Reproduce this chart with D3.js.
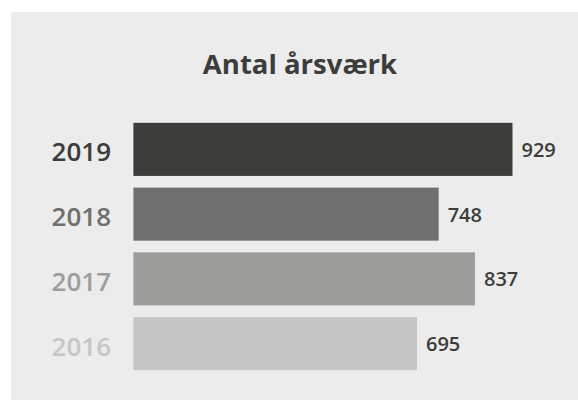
<!DOCTYPE html>
<html>
<head>
<meta charset="utf-8">
<script src="https://cdn.jsdelivr.net/npm/d3@7"></script>
<style>
  body { margin: 0; background: #fff; }
  svg { display: block; font-family: "Open Sans", sans-serif; }
</style>
</head>
<body>
<svg id="chart" width="578" height="400"></svg>
<script>
const years = ['2019', '2018', '2017', '2016'];
const values = [929, 748, 837, 695];
const colors = ['#3c3c3b', '#6f6f6f', '#9d9d9c', '#c6c6c6'];
const title = 'Antal årsværk';

const svg = d3.select('#chart');

// grey panel
svg.append('rect')
  .attr('x', 11).attr('y', 12)
  .attr('width', 567).attr('height', 388)
  .attr('fill', '#ececec');

svg.append('text')
  .attr('x', 300).attr('y', 74)
  .attr('text-anchor', 'middle')
  .attr('font-size', 27.5)
  .attr('font-weight', 700)
  .attr('fill', '#3c3c3b')
  .text(title);

const x = d3.scaleLinear().domain([0, 929]).range([133.4, 512.5]);
const y = d3.scaleBand().domain(years).range([117, 376]).paddingInner(0.18).paddingOuter(0.09);

const rows = svg.selectAll('g.row')
  .data(years)
  .join('g')
  .attr('class', 'row');

rows.append('rect')
  .attr('x', x(0))
  .attr('y', d => y(d))
  .attr('width', (d, i) => x(values[i]) - x(0))
  .attr('height', y.bandwidth())
  .attr('fill', (d, i) => colors[i]);

rows.append('text')
  .attr('x', 111)
  .attr('y', d => y(d) + y.bandwidth() / 2 + 12)
  .attr('text-anchor', 'end')
  .attr('font-size', 26)
  .attr('font-weight', 600)
  .attr('fill', (d, i) => colors[i])
  .text(d => d);

rows.append('text')
  .attr('x', (d, i) => x(values[i]) + 9)
  .attr('y', d => y(d) + y.bandwidth() / 2 + 7.5)
  .attr('font-size', 20)
  .attr('font-weight', 600)
  .attr('fill', '#3c3c3b')
  .text((d, i) => values[i]);
</script>
</body>
</html>
